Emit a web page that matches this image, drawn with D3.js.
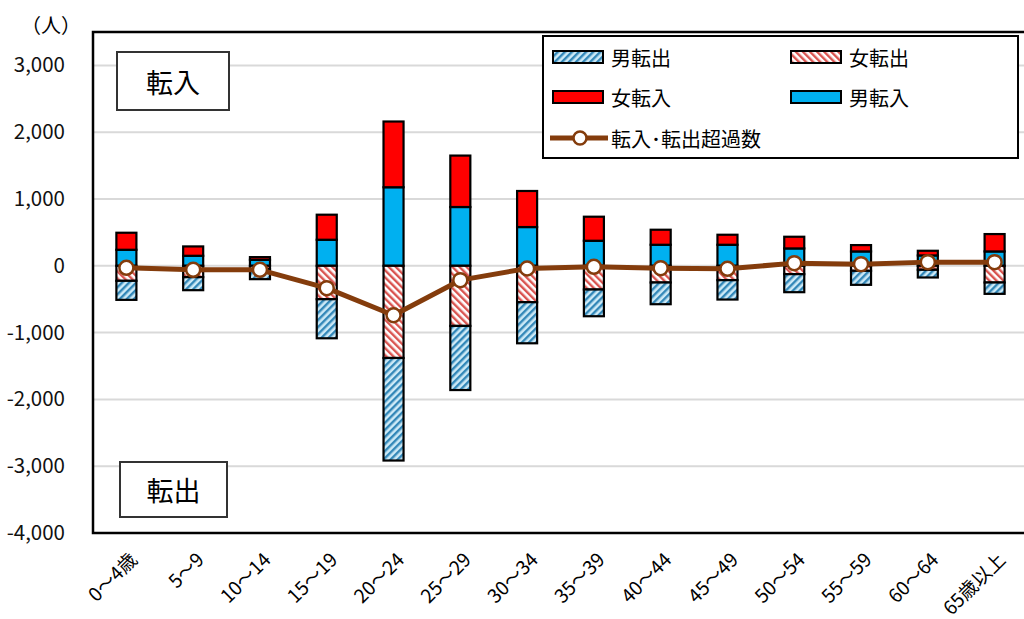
<!DOCTYPE html>
<html>
<head>
<meta charset="utf-8">
<script src="https://cdn.jsdelivr.net/npm/d3@7"></script>
<style>
  body { margin: 0; background: #fff; }
  svg { display: block; font-family: "Noto Sans CJK JP", "Noto Sans", sans-serif; }
</style>
</head>
<body>
<div id="chart"></div>
<script>
"use strict";

// age groups
var categories = ["0～4歳", "5～9", "10～14", "15～19", "20～24", "25～29", "30～34",
                  "35～39", "40～44", "45～49", "50～54", "55～59", "60～64", "65歳以上"];

// people moving in (positive side)
var maleIn   = [240, 150, 90, 390, 1176, 880, 580, 375, 315, 315, 260, 215, 155, 215];
var femaleIn = [255, 140, 40, 375, 984, 770, 540, 360, 225, 150, 175, 95, 70, 260];

// people moving out (drawn below zero)
var femaleOut = [225, 170, 50, 500, 1380, 900, 545, 355, 250, 215, 125, 75, 60, 250];
var maleOut   = [285, 195, 150, 585, 1535, 960, 615, 400, 325, 290, 270, 210, 115, 170];

// net in/out line
var netValues = [-30, -60, -60, -335, -740, -215, -40, -15, -35, -45, 40, 25, 55, 55];

var yTicks = [-4000, -3000, -2000, -1000, 0, 1000, 2000, 3000];

var W = 1024, H = 619;
var plot = {left: 93, right: 1028, top: 32, bottom: 533};

var brown = "#843c0c";

var svg = d3.select("#chart")
            .append("svg")
            .attr("width", W)
            .attr("height", H);

var defs = svg.append("defs");

// hatch for male out: "/" stripes, blue
var pm = defs.append("pattern")
             .attr("id", "hatchMaleOut")
             .attr("patternUnits", "userSpaceOnUse")
             .attr("width", 5).attr("height", 5)
             .attr("patternTransform", "rotate(45)");
pm.append("rect").attr("width", 5).attr("height", 5).attr("fill", "#cdeaf7");
pm.append("rect").attr("width", 2.4).attr("height", 5).attr("fill", "#3287b8");

// hatch for female out: "\" stripes, red
var pf = defs.append("pattern")
             .attr("id", "hatchFemaleOut")
             .attr("patternUnits", "userSpaceOnUse")
             .attr("width", 5).attr("height", 5)
             .attr("patternTransform", "rotate(-45)");
pf.append("rect").attr("width", 5).attr("height", 5).attr("fill", "#ffffff");
pf.append("rect").attr("width", 2.4).attr("height", 5).attr("fill", "#d9534f");

var x = d3.scaleBand()
          .domain(categories)
          .range([plot.left, plot.right]);

var y = d3.scaleLinear()
          .domain([-4000, 3500])
          .range([plot.bottom, plot.top]);

// grid lines
svg.append("g")
   .attr("class", "grid")
   .selectAll("line")
   .data(yTicks)
   .enter()
   .append("line")
   .attr("x1", plot.left).attr("x2", plot.right)
   .attr("y1", function(d){ return y(d); })
   .attr("y2", function(d){ return y(d); })
   .attr("stroke", "#d9d9d9")
   .attr("stroke-width", 2);

// y axis labels (plain hyphen for minus, as in the original)
var fmt = d3.format(",");
var yAxis = svg.append("g")
               .attr("transform", "translate(" + (plot.left - 28) + ",0)")
               .call(d3.axisLeft(y).tickValues(yTicks)
                       .tickFormat(function(d){ return fmt(d).replace("−", "-"); })
                       .tickSize(0).tickPadding(0));
yAxis.select(".domain").remove();
yAxis.selectAll("text")
     .attr("font-size", 20.5)
     .attr("fill", "#111")
     .attr("font-family", "'Noto Sans CJK JP', sans-serif");

svg.append("text")
   .attr("x", 51).attr("y", 24)
   .attr("dominant-baseline", "central")
   .attr("text-anchor", "middle")
   .attr("font-size", 20)
   .text("（人）");

// stacked bars
var rows = categories.map(function(c, i){
  return {cat: c, maleIn: maleIn[i], femaleIn: femaleIn[i],
          femaleOut: -femaleOut[i], maleOut: -maleOut[i]};
});

var keys = ["maleIn", "femaleIn", "femaleOut", "maleOut"];
var fills = {maleIn: "#00b0f0", femaleIn: "#ff0000",
             femaleOut: "url(#hatchFemaleOut)", maleOut: "url(#hatchMaleOut)"};

var series = d3.stack()
               .keys(keys)
               .offset(d3.stackOffsetDiverging)(rows);

var barW = x.bandwidth() * 0.3;

svg.append("g")
   .attr("class", "bars")
   .selectAll("g")
   .data(series)
   .enter()
   .append("g")
   .attr("fill", function(d){ return fills[d.key]; })
   .selectAll("rect")
   .data(function(d){ return d; })
   .enter()
   .append("rect")
   .attr("x", function(d){ return x(d.data.cat) + (x.bandwidth() - barW) / 2; })
   .attr("y", function(d){ return y(Math.max(d[0], d[1])); })
   .attr("width", barW)
   .attr("height", function(d){ return Math.abs(y(d[0]) - y(d[1])); })
   .attr("stroke", "#000")
   .attr("stroke-width", 2.2);

// net line
var line = d3.line()
             .x(function(d, i){ return x(categories[i]) + x.bandwidth() / 2; })
             .y(function(d){ return y(d); });

svg.append("path")
   .datum(netValues)
   .attr("d", line)
   .attr("fill", "none")
   .attr("stroke", brown)
   .attr("stroke-width", 5)
   .attr("stroke-linejoin", "round");

svg.append("g")
   .selectAll("circle")
   .data(netValues)
   .enter()
   .append("circle")
   .attr("cx", function(d, i){ return x(categories[i]) + x.bandwidth() / 2; })
   .attr("cy", function(d){ return y(d); })
   .attr("r", 7)
   .attr("fill", "#fff")
   .attr("stroke", brown)
   .attr("stroke-width", 2.5);

// plot frame
svg.append("rect")
   .attr("x", plot.left).attr("y", plot.top)
   .attr("width", plot.right - plot.left)
   .attr("height", plot.bottom - plot.top)
   .attr("fill", "none")
   .attr("stroke", "#000")
   .attr("stroke-width", 2.5);

// x labels, rotated
svg.append("g")
   .selectAll("text")
   .data(categories)
   .enter()
   .append("text")
   .attr("transform", function(d){
     return "translate(" + (x(d) + x.bandwidth() / 2 + 12) + ",561) rotate(-45)";
   })
   .attr("text-anchor", "end")
   .attr("font-size", 19)
   .text(function(d){ return d; });

// 転入 / 転出 boxes
var boxes = [{t: "転入", x: 117, y: 52, w: 112, h: 58},
             {t: "転出", x: 120, y: 462, w: 107, h: 55}];
var bg = svg.append("g").selectAll("g").data(boxes).enter().append("g");
bg.append("rect")
  .attr("x", function(d){ return d.x; }).attr("y", function(d){ return d.y; })
  .attr("width", function(d){ return d.w; }).attr("height", function(d){ return d.h; })
  .attr("fill", "#fff").attr("stroke", "#333").attr("stroke-width", 2);
bg.append("text")
  .attr("x", function(d){ return d.x + d.w / 2; })
  .attr("y", function(d){ return d.y + d.h / 2; })
  .attr("text-anchor", "middle")
  .attr("dominant-baseline", "central")
  .attr("font-size", 27)
  .text(function(d){ return d.t; });

// legend
var legend = svg.append("g").attr("class", "legend");
legend.append("rect")
      .attr("x", 543).attr("y", 36)
      .attr("width", 475).attr("height", 122)
      .attr("fill", "#fff").attr("stroke", "#000").attr("stroke-width", 2);

var legendItems = [
  {label: "男転出", fill: fills.maleOut, x: 553, y: 57},
  {label: "女転出", fill: fills.femaleOut, x: 791, y: 57},
  {label: "女転入", fill: fills.femaleIn, x: 553, y: 97},
  {label: "男転入", fill: fills.maleIn, x: 791, y: 97}
];

var li = legend.selectAll("g.item").data(legendItems).enter().append("g").attr("class", "item");
li.append("rect")
  .attr("x", function(d){ return d.x; })
  .attr("y", function(d){ return d.y - 6; })
  .attr("width", 50).attr("height", 12)
  .attr("fill", function(d){ return d.fill; })
  .attr("stroke", "#000").attr("stroke-width", 2);
li.append("text")
  .attr("x", function(d){ return d.x + 58; })
  .attr("y", function(d){ return d.y; })
  .attr("dominant-baseline", "central")
  .attr("font-size", 20)
  .text(function(d){ return d.label; });

legend.append("line")
      .attr("x1", 550).attr("x2", 608)
      .attr("y1", 138).attr("y2", 138)
      .attr("stroke", brown).attr("stroke-width", 5);
legend.append("circle")
      .attr("cx", 580).attr("cy", 138).attr("r", 6.5)
      .attr("fill", "#fff").attr("stroke", brown).attr("stroke-width", 2.5);
legend.append("text")
      .attr("x", 611).attr("y", 138)
      .attr("dominant-baseline", "central")
      .attr("font-size", 20)
      .text("転入･転出超過数");
</script>
</body>
</html>
